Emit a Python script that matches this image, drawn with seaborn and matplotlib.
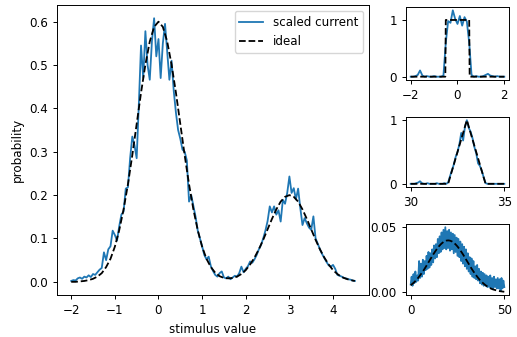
import numpy as np
import matplotlib
matplotlib.use("Agg")
import matplotlib.pyplot as plt
import seaborn as sns

# ---------------- data ----------------
# main panel
main_noisy = [0.002, 0.004, 0.003, 0.008, 0.010, 0.007, 0.012, 0.010, 0.015, 0.011,
              0.018, 0.016, 0.022, 0.028, 0.032, 0.068, 0.050, 0.075, 0.082, 0.118,
              0.108, 0.095, 0.128, 0.155, 0.162, 0.215, 0.218, 0.285, 0.335, 0.315,
              0.285, 0.410, 0.545, 0.470, 0.578, 0.500, 0.466, 0.555, 0.608, 0.520,
              0.560, 0.470, 0.550, 0.595, 0.530, 0.466, 0.510, 0.440, 0.390, 0.350,
              0.330, 0.305, 0.300, 0.280, 0.185, 0.200, 0.175, 0.150, 0.118, 0.100,
              0.082, 0.062, 0.052, 0.058, 0.036, 0.025, 0.016, 0.012, 0.020, 0.024,
              0.010, 0.008, 0.012, 0.006, 0.010, 0.014, 0.012, 0.020, 0.035, 0.022,
              0.030, 0.036, 0.047, 0.044, 0.052, 0.062, 0.075, 0.085, 0.100, 0.118,
              0.140, 0.174, 0.160, 0.174, 0.155, 0.165, 0.139, 0.189, 0.180, 0.205,
              0.243, 0.205, 0.216, 0.190, 0.215, 0.170, 0.131, 0.147, 0.135, 0.125,
              0.120, 0.151, 0.100, 0.088, 0.075, 0.064, 0.055, 0.046, 0.038, 0.035,
              0.039, 0.030, 0.016, 0.014, 0.012, 0.009, 0.008, 0.006, 0.005, 0.003,
              0.002]
main_ideal = [0.000, 0.000, 0.001, 0.002, 0.004, 0.007, 0.012, 0.020, 0.034, 0.053,
              0.081, 0.119, 0.167, 0.225, 0.292, 0.364, 0.436, 0.501, 0.554, 0.588,
              0.600, 0.588, 0.554, 0.501, 0.436, 0.364, 0.292, 0.225, 0.167, 0.119,
              0.081, 0.053, 0.034, 0.021, 0.013, 0.009, 0.008, 0.009, 0.012, 0.018,
              0.027, 0.040, 0.056, 0.075, 0.097, 0.121, 0.145, 0.167, 0.185, 0.196,
              0.200, 0.196, 0.185, 0.167, 0.145, 0.121, 0.097, 0.075, 0.056, 0.040,
              0.027, 0.018, 0.011, 0.007, 0.004, 0.002]
main_x_noisy = np.linspace(-2, 4.5, len(main_noisy))
main_x_ideal = np.linspace(-2, 4.5, len(main_ideal))

# top-right panel (box)
box_noisy = [0.0, 0.0, 0.01, 0.03, 0.11, 0.02, 0.0, 0.01, 0.0, 0.0,
             0.01, 0.0, 0.0, 0.0, 0.02, 0.60, 0.98, 0.95, 1.17, 1.02,
             0.93, 1.07, 0.90, 1.05, 0.97, 0.60, 0.03, 0.0, 0.01, 0.0,
             0.0, 0.01, 0.03, 0.05, 0.02, 0.01, 0.0, 0.01, 0.0, 0.0, 0.0]
box_x_noisy = np.linspace(-2, 2, len(box_noisy))
box_ideal = [0.0] * 75 + [1.0] * 51 + [0.0] * 75
box_x_ideal = np.linspace(-2, 2, len(box_ideal))

# middle-right panel (triangle)
tri_noisy = [0.0, 0.0, 0.0, 0.01, 0.02, 0.04, 0.01, 0.0, 0.0, 0.01,
             0.0, 0.0, 0.0, 0.0, 0.01, 0.0, 0.0, 0.0, 0.01, 0.0,
             0.02, 0.12, 0.21, 0.30, 0.42, 0.50, 0.62, 0.80, 0.68, 0.90,
             1.00, 0.88, 0.82, 0.72, 0.58, 0.48, 0.32, 0.28, 0.20, 0.10,
             0.01, 0.0, 0.0, 0.0, 0.0, 0.0, 0.0, 0.0, 0.0, 0.0, 0.0]
tri_ideal = [0.0] * 20 + [0.0, 0.1, 0.2, 0.3, 0.4, 0.5, 0.6, 0.7, 0.8, 0.9,
                          1.0, 0.9, 0.8, 0.7, 0.6, 0.5, 0.4, 0.3, 0.2, 0.1] + [0.0] * 11
tri_x = np.linspace(30, 35, len(tri_noisy))

# bottom-right panel (broad)
wide_noisy = [0.006, 0.012, 0.005, 0.014, 0.007, 0.016, 0.008, 0.013, 0.009, 0.024,
              0.011, 0.022, 0.012, 0.025, 0.014, 0.024, 0.017, 0.028, 0.018, 0.031,
              0.019, 0.030, 0.021, 0.033, 0.023, 0.036, 0.026, 0.037, 0.027, 0.041,
              0.030, 0.043, 0.031, 0.046, 0.033, 0.048, 0.034, 0.050, 0.033, 0.047,
              0.034, 0.048, 0.032, 0.046, 0.033, 0.045, 0.030, 0.044, 0.031, 0.042,
              0.028, 0.041, 0.027, 0.039, 0.024, 0.037, 0.022, 0.035, 0.020, 0.033,
              0.018, 0.030, 0.016, 0.027, 0.014, 0.026, 0.012, 0.024, 0.011, 0.020,
              0.010, 0.021, 0.009, 0.018, 0.007, 0.016, 0.006, 0.015, 0.005, 0.014,
              0.005, 0.013, 0.004, 0.012, 0.004, 0.013, 0.003, 0.011, 0.003, 0.012,
              0.004, 0.010, 0.003, 0.011, 0.003, 0.010, 0.001, 0.011, 0.003, 0.009,
              0.004]
wide_x_noisy = np.linspace(0, 50, len(wide_noisy))
wide_ideal = [0.0054, 0.0066, 0.0079, 0.0094, 0.0111, 0.0130, 0.0150, 0.0171, 0.0194, 0.0218,
              0.0242, 0.0266, 0.0290, 0.0312, 0.0333, 0.0352, 0.0368, 0.0381, 0.0391, 0.0397,
              0.0399, 0.0397, 0.0391, 0.0381, 0.0368, 0.0352, 0.0333, 0.0312, 0.0290, 0.0266,
              0.0242, 0.0218, 0.0194, 0.0171, 0.0150, 0.0130, 0.0111, 0.0094, 0.0079, 0.0066,
              0.0054, 0.0044, 0.0036, 0.0028, 0.0022, 0.0018, 0.0014, 0.0010, 0.0008, 0.0006,
              0.0004]
wide_x_ideal = np.linspace(0, 50, len(wide_ideal))

# ---------------- style ----------------
plt.rcParams.update({
    "font.size": 8.6,
    "lines.linewidth": 1.3,
    "axes.linewidth": 0.7,
    "xtick.major.size": 3.1,
    "ytick.major.size": 3.1,
    "xtick.major.width": 0.7,
    "ytick.major.width": 0.7,
    "font.family": ["DejaVu Sans"],
})

BLUE = "#1f77b4"
fig = plt.figure(figsize=(5.17, 3.37), dpi=100)

ax = fig.add_axes([0.1103, 0.1246, 0.6035, 0.8605])
ax1 = fig.add_axes([0.7853, 0.7626, 0.1992, 0.2166])
ax2 = fig.add_axes([0.7853, 0.4451, 0.1992, 0.2077])
ax3 = fig.add_axes([0.7853, 0.1246, 0.1992, 0.2107])

sns.lineplot(x=main_x_noisy, y=main_noisy, ax=ax, color=BLUE, estimator=None,
             label="scaled current", linewidth=1.3)
sns.lineplot(x=main_x_ideal, y=main_ideal, ax=ax, color="k", estimator=None,
             label="ideal", linestyle="--", linewidth=1.3)
ax.set_xlabel("stimulus value")
ax.set_ylabel("probability")
ax.set_xticks([-2, -1, 0, 1, 2, 3, 4])
ax.set_yticks([0.0, 0.1, 0.2, 0.3, 0.4, 0.5, 0.6])
ax.legend(loc="upper right")

sns.lineplot(x=box_x_noisy, y=box_noisy, ax=ax1, color=BLUE, estimator=None, linewidth=1.3)
sns.lineplot(x=box_x_ideal, y=box_ideal, ax=ax1, color="k", estimator=None,
             linestyle="--", linewidth=1.3)
ax1.set_xticks([-2, 0, 2])
ax1.set_yticks([0, 1])

sns.lineplot(x=tri_x, y=tri_noisy, ax=ax2, color=BLUE, estimator=None, linewidth=1.3)
sns.lineplot(x=tri_x, y=tri_ideal, ax=ax2, color="k", estimator=None,
             linestyle="--", linewidth=1.3)
ax2.set_xticks([30, 35])
ax2.set_yticks([0, 1])

sns.lineplot(x=wide_x_noisy, y=wide_noisy, ax=ax3, color=BLUE, estimator=None, linewidth=1.3)
sns.lineplot(x=wide_x_ideal, y=wide_ideal, ax=ax3, color="k", estimator=None,
             linestyle="--", linewidth=1.3)
ax3.set_xticks([0, 50])
ax3.set_yticks([0.0, 0.05])
ax3.set_yticklabels(["0.00", "0.05"])

fig.savefig("out.png", dpi=100)
